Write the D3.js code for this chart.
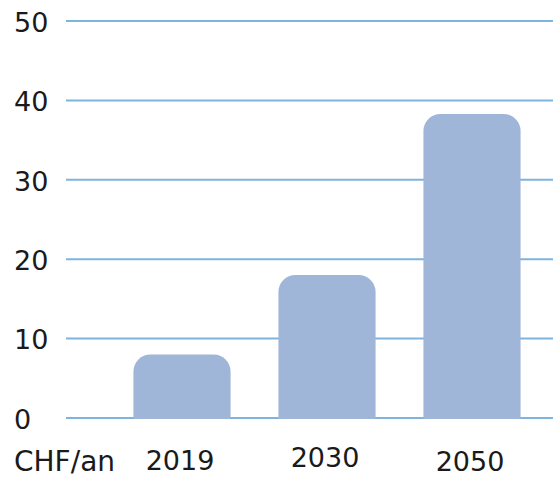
<!DOCTYPE html>
<html><head><meta charset="utf-8">
<script src="https://cdn.jsdelivr.net/npm/d3@7"></script>
<style>html,body{margin:0;padding:0;background:#fff;}svg{display:block;}</style>
</head><body>
<svg id="c" width="553" height="483"></svg>
<script>
const categories = ["2019", "2030", "2050"];
const values = [8, 18, 38.3];
const yTicks = [0, 10, 20, 30, 40, 50];
const unitLabel = "CHF/an";

const svg = d3.select("#c");
const font = "'DejaVu Sans', Verdana, sans-serif";
const y = d3.scaleLinear().domain([0, 50]).range([418, 21]);
const x = d3.scaleBand().domain(categories).range([109.5, 544.5]).paddingInner(0.33).paddingOuter(0.165);

// gridlines
svg.append("g").selectAll("line").data(yTicks).join("line")
  .attr("x1", 66).attr("x2", 553)
  .attr("y1", d => y(d)).attr("y2", d => y(d))
  .attr("stroke", "#7db5dc").attr("stroke-width", 2);

// y tick labels
svg.append("g").selectAll("text").data(yTicks).join("text")
  .attr("x", 14).attr("y", d => y(d) + 1)
  .attr("dy", "0.36em")
  .attr("font-family", font).attr("font-size", 27).attr("fill", "#1a1a1a")
  .text(d => d);

// bars with rounded top corners
const r = 17;
function barPath(x0, w, yTop, yBase) {
  const rr = Math.min(r, (yBase - yTop), w / 2);
  return `M${x0},${yBase} L${x0},${yTop + rr} A${rr},${rr} 0 0 1 ${x0 + rr},${yTop} L${x0 + w - rr},${yTop} A${rr},${rr} 0 0 1 ${x0 + w},${yTop + rr} L${x0 + w},${yBase} Z`;
}
svg.append("g").selectAll("path").data(values).join("path")
  .attr("d", (d, i) => barPath(x(categories[i]), x.bandwidth(), y(d), y(0) + 1))
  .attr("fill", "#a0b6d8");

// category labels
const yOff = [470, 467, 471];
svg.append("g").selectAll("text").data(categories).join("text")
  .attr("x", d => x(d) + x.bandwidth() / 2 - 2)
  .attr("y", (d, i) => yOff[i])
  .attr("text-anchor", "middle")
  .attr("font-family", font).attr("font-size", 27).attr("fill", "#1a1a1a")
  .text(d => d);

svg.append("text").attr("x", 14).attr("y", 471)
  .attr("font-family", font).attr("font-size", 28).attr("fill", "#1a1a1a")
  .text(unitLabel);
</script>
</body></html>
